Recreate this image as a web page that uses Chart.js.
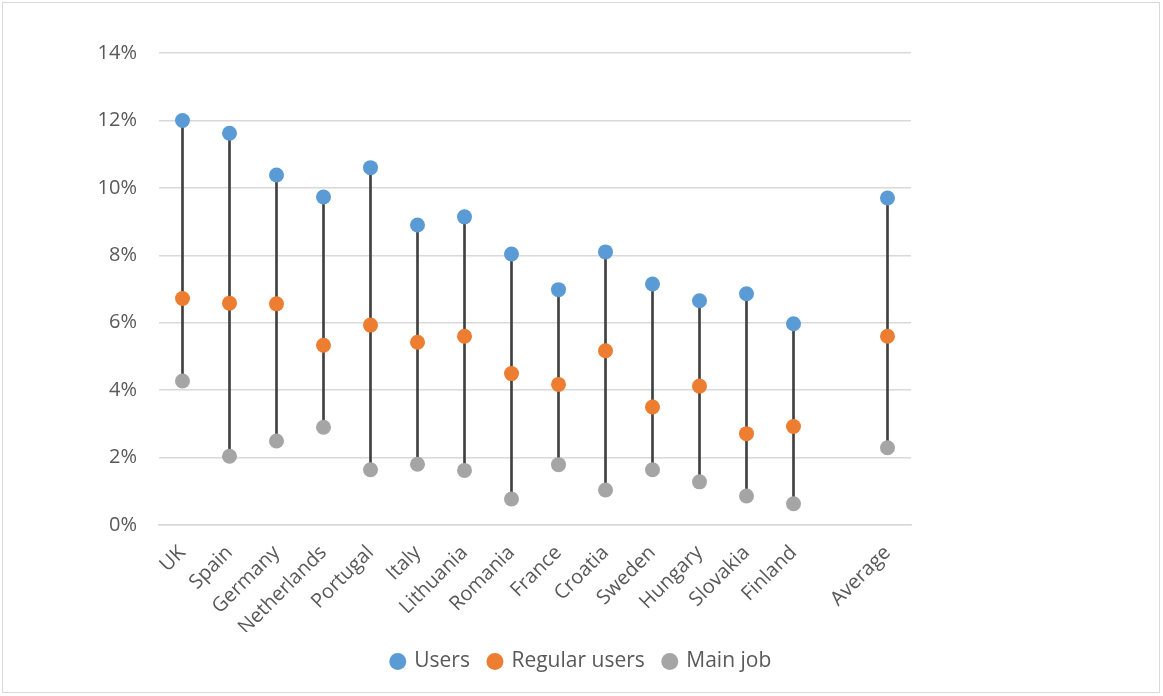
<!DOCTYPE html>
<html>
<head>
<meta charset="utf-8">
<script src="https://cdn.jsdelivr.net/npm/chart.js@4.4.1/dist/chart.umd.min.js"></script>
<style>
  body { margin: 0; background: #fff; }
  #frame { position: absolute; left: 2px; top: 2px; width: 1158px; height: 691px; border: 1px solid #d9d9d9; box-sizing: border-box; }
  canvas { position: absolute; left: 0; top: 0; }
</style>
</head>
<body>
<div id="frame"></div>
<canvas id="chart" width="1163" height="696"></canvas>
<script>
// categories (empty slot before Average, as in the original)
const countries = ["UK", "Spain", "Germany", "Netherlands", "Portugal", "Italy", "Lithuania",
  "Romania", "France", "Croatia", "Sweden", "Hungary", "Slovakia", "Finland", "", "Average"];

// shares in %
const users = [12.0, 11.62, 10.38, 9.73, 10.6, 8.9, 9.14, 8.04, 6.98, 8.1, 7.15, 6.65, 6.86, 5.97, null, 9.7];
const regularUsers = [6.72, 6.58, 6.56, 5.33, 5.93, 5.42, 5.6, 4.49, 4.17, 5.17, 3.5, 4.12, 2.71, 2.92, null, 5.6];
const mainJob = [4.27, 2.04, 2.49, 2.9, 1.64, 1.8, 1.62, 0.77, 1.79, 1.04, 1.64, 1.28, 0.86, 0.63, null, 2.29];

const yTicks = [0, 2, 4, 6, 8, 10, 12, 14];

const txt = "#595959";
const font = { family: "'Open Sans', sans-serif", size: 20 };

// high-low line from main job to users
const ranges = users.map((u, i) => (u === null ? null : [mainJob[i], u]));

function dots(label, data, color) {
  return {
    type: "line",
    label: label,
    data: data,
    showLine: false,
    pointRadius: 7.5,
    pointHoverRadius: 7.5,
    pointBackgroundColor: color,
    pointBorderWidth: 0,
    borderColor: color,
    backgroundColor: color,
    order: 1,
  };
}

new Chart(document.getElementById("chart").getContext("2d"), {
  type: "bar",
  data: {
    labels: countries,
    datasets: [
      dots("Users", users, "#5B9BD5"),
      dots("Regular users", regularUsers, "#ED7D31"),
      dots("Main job", mainJob, "#A5A5A5"),
      {
        label: "range",
        data: ranges,
        backgroundColor: "#404040",
        barThickness: 2,
        order: 2,
      },
    ],
  },
  options: {
    responsive: false,
    animation: false,
    layout: { padding: { left: 0, right: 0, top: 53, bottom: 14 } },
    scales: {
      x: {
        offset: true,
        grid: { display: false, drawTicks: false },
        border: { display: true, color: "#d9d9d9", width: 1.5 },
        ticks: { color: txt, font: font, minRotation: 45, maxRotation: 45, autoSkip: false, padding: 16 },
        afterFit: (scale) => { scale.height = 107; },
      },
      y: {
        min: 0,
        max: 14,
        afterBuildTicks: (scale) => { scale.ticks = yTicks.map((v) => ({ value: v })); },
        grid: { color: "#d9d9d9", lineWidth: 1.5, drawTicks: false },
        border: { display: false },
        ticks: { color: txt, font: font, padding: 22, callback: (v) => v + "%" },
        afterFit: (scale) => { scale.width = 159; },
      },
      // empty right-hand space, so the legend stays centred on the whole canvas
      yRight: {
        position: "right",
        min: 0,
        max: 14,
        grid: { display: false, drawTicks: false },
        border: { display: false },
        ticks: { display: false },
        afterFit: (scale) => { scale.width = 252; },
      },
    },
    plugins: {
      legend: {
        position: "bottom",
        labels: {
          color: txt,
          font: { family: font.family, size: 21 },
          usePointStyle: true,
          pointStyle: "circle",
          boxWidth: 12,
          boxHeight: 12,
          padding: 19,
          filter: (item) => item.text !== "range",
        },
      },
      tooltip: { enabled: false },
    },
  },
});
</script>
</body>
</html>
